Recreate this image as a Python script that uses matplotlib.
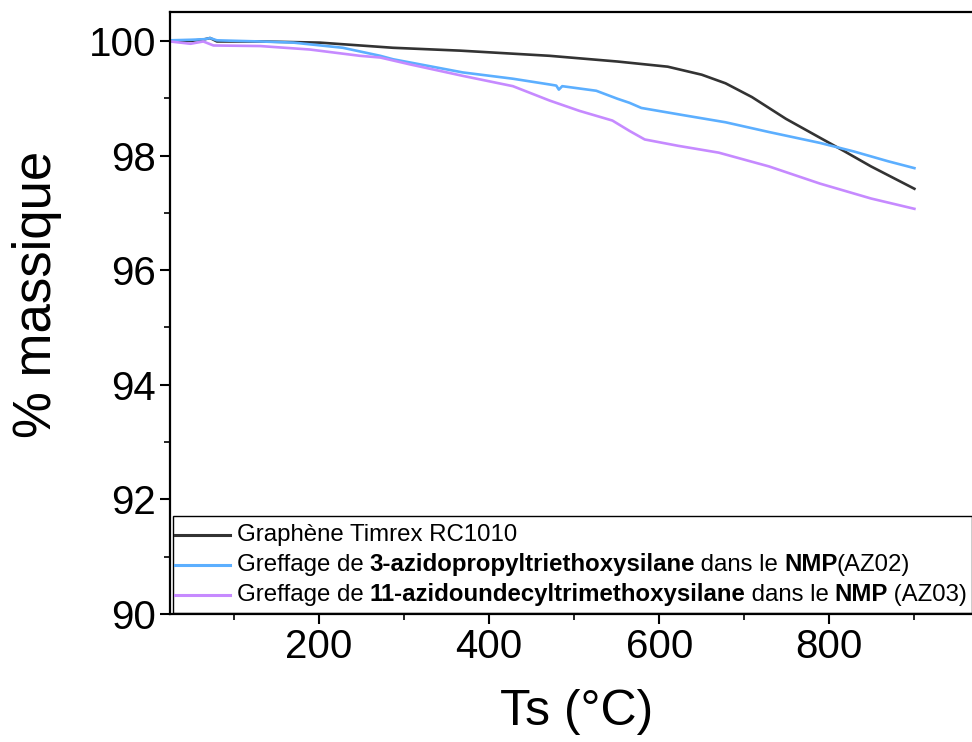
import matplotlib
matplotlib.use("Agg")
import matplotlib.pyplot as plt
from matplotlib.lines import Line2D
from matplotlib.patches import Rectangle
from matplotlib.ticker import MultipleLocator

plt.rcParams["font.family"] = ["Liberation Sans", "DejaVu Sans"]

# Données ATG
temp_graphene = [25, 50, 66, 72, 80, 131, 201, 287, 366, 471, 551, 610, 650, 678,
                 709, 749, 789, 817, 849, 900]
masse_graphene = [100.0, 100.0, 100.03, 100.05, 99.99, 99.99, 99.97, 99.88, 99.83,
                  99.74, 99.64, 99.55, 99.41, 99.26, 99.02, 98.64, 98.31, 98.08,
                  97.81, 97.42]

temp_az02 = [25, 50, 66, 72, 80, 131, 170, 228, 272, 287, 369, 428, 471, 479, 482,
             486, 526, 551, 565, 579, 630, 678, 729, 789, 829, 869, 900]
masse_az02 = [100.01, 100.02, 100.03, 100.05, 100.01, 99.99, 99.97, 99.88, 99.74,
              99.68, 99.45, 99.34, 99.24, 99.22, 99.15, 99.21, 99.13, 98.99, 98.92,
              98.83, 98.70, 98.58, 98.41, 98.22, 98.07, 97.90, 97.78]

temp_az03 = [25, 49, 64, 76, 131, 189, 248, 272, 307, 369, 428, 471, 506, 545, 565,
             583, 622, 670, 729, 789, 849, 900]
masse_az03 = [99.99, 99.95, 99.99, 99.92, 99.91, 99.85, 99.74, 99.71, 99.59, 99.39,
              99.21, 98.96, 98.78, 98.61, 98.43, 98.28, 98.17, 98.05, 97.81, 97.51,
              97.25, 97.07]

couleurs = ["#333333", "#5CAFFF", "#C68AFF"]

fig = plt.figure(figsize=(9.72, 7.42), dpi=100)
ax = fig.add_axes([0.175, 0.1725, 0.827, 0.811])

ax.plot(temp_graphene, masse_graphene, color=couleurs[0], lw=1.9)
ax.plot(temp_az02, masse_az02, color=couleurs[1], lw=1.9)
ax.plot(temp_az03, masse_az03, color=couleurs[2], lw=1.9)

ax.set_xlim(25, 970)
ax.set_ylim(90, 100.5)
ax.xaxis.set_major_locator(MultipleLocator(200))
ax.xaxis.set_minor_locator(MultipleLocator(100))
ax.yaxis.set_major_locator(MultipleLocator(2))
ax.yaxis.set_minor_locator(MultipleLocator(1))
ax.tick_params(which="major", direction="out", length=7, width=1.5, labelsize=29, pad=3)
ax.tick_params(which="minor", direction="out", length=4, width=1.2)
for s in ax.spines.values():
    s.set_linewidth(1.6)

fig.text(0.038, 0.603, "% massique", rotation=90, fontsize=38, ha="center", va="center")
fig.text(0.593, 0.04, "Ts (°C)", fontsize=36, ha="center", va="center")

# Légende (texte en partie gras)
ax.add_patch(Rectangle((0.003, 0.002), 0.994, 0.161, transform=ax.transAxes,
                       fill=False, edgecolor="black", lw=1.0, zorder=5))
rows = [
    [("Graphène Timrex RC1010", "normal")],
    [("Greffage de ", "normal"), ("3-azidopropyltriethoxysilane", "bold"),
     (" dans le ", "normal"), ("NMP", "bold"), ("(AZ02)", "normal")],
    [("Greffage de ", "normal"), ("11-azidoundecyltrimethoxysilane", "bold"),
     (" dans le ", "normal"), ("NMP", "bold"), (" (AZ03)", "normal")],
]
row_y = [0.131, 0.081, 0.032]
for couleur, morceaux, y in zip(couleurs, rows, row_y):
    ax.add_line(Line2D([0.006, 0.075], [y, y], transform=ax.transAxes,
                       color=couleur, lw=2.2, zorder=6))
    prev = ax.text(0.083, y, morceaux[0][0], transform=ax.transAxes, fontsize=17.3,
                   fontweight=morceaux[0][1], va="center", ha="left", zorder=6)
    for txt, poids in morceaux[1:]:
        prev = ax.annotate(txt, xy=(1, 0), xycoords=prev, xytext=(-0.5, 0),
                           textcoords="offset points", fontsize=17.3,
                           fontweight=poids, va="bottom", ha="left", zorder=6)

fig.savefig("out.png", dpi=100)
